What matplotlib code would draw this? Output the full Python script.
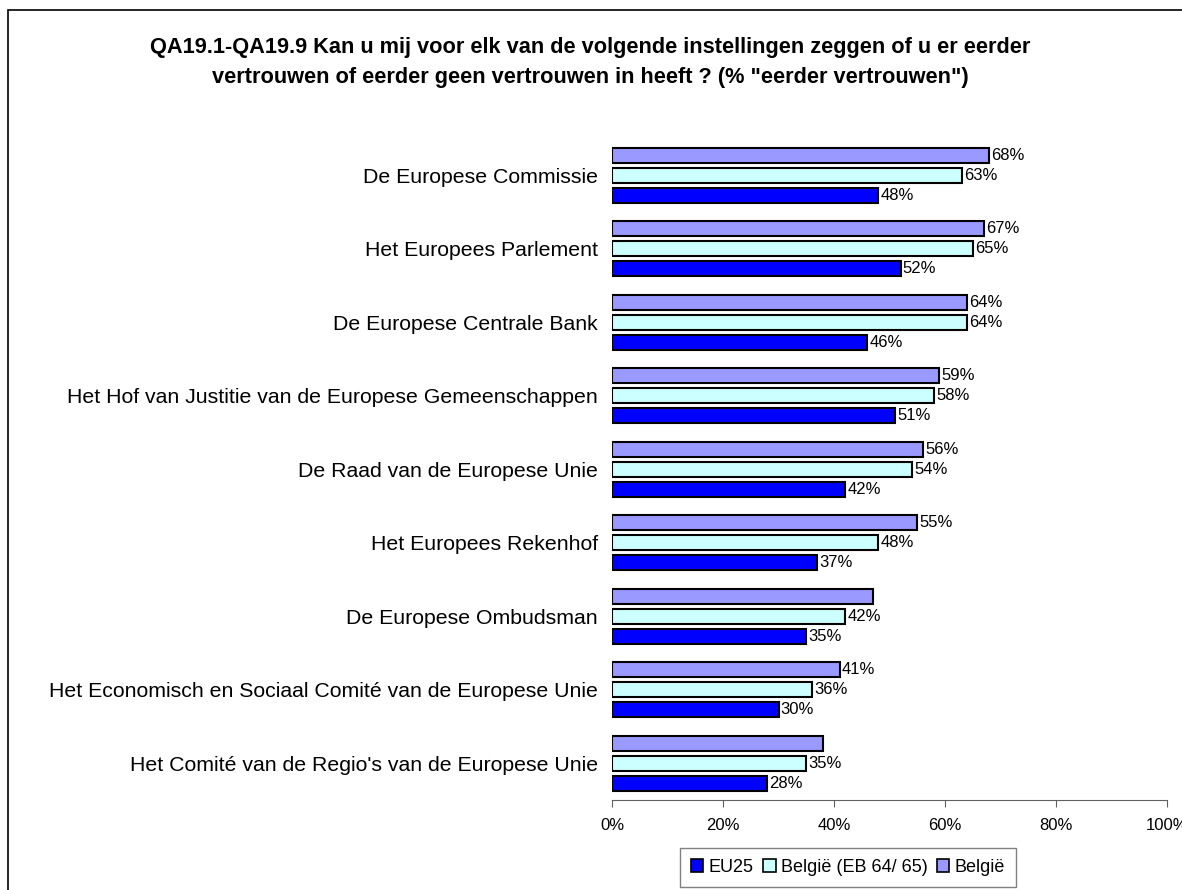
import matplotlib
matplotlib.use("Agg")
import matplotlib.pyplot as plt
from matplotlib.patches import Rectangle
import numpy as np

plt.rcParams['font.family'] = ['Liberation Sans', 'DejaVu Sans']

# data
categories = [
    "De Europese Commissie",
    "Het Europees Parlement",
    "De Europese Centrale Bank",
    "Het Hof van Justitie van de Europese Gemeenschappen",
    "De Raad van de Europese Unie",
    "Het Europees Rekenhof",
    "De Europese Ombudsman",
    "Het Economisch en Sociaal Comité van de Europese Unie",
    "Het Comité van de Regio's van de Europese Unie",
]
belgie = [68, 67, 64, 59, 56, 55, 47, 41, 38]
belgie_eb = [63, 65, 64, 58, 54, 48, 42, 36, 35]
eu25 = [48, 52, 46, 51, 42, 37, 35, 30, 28]
# some labels are not shown in the original
show_belgie = [True, True, True, True, True, True, False, True, False]

title = ('QA19.1-QA19.9 Kan u mij voor elk van de volgende instellingen zeggen of u er eerder\n'
         'vertrouwen of eerder geen vertrouwen in heeft ? (% "eerder vertrouwen")')

fig = plt.figure(figsize=(11.82, 8.90), dpi=100)
ax = fig.add_axes([612/1182, 1-800/890, 555/1182, (800-138.5)/890])

y = np.arange(len(categories)) + 0.5
pitch = 0.272
h = 0.205
fs = 12

series = [
    (eu25, y + pitch, '#0000FF', 'EU25', [True]*9),
    (belgie_eb, y, '#CCFFFF', 'België (EB 64/ 65)', [True]*9),
    (belgie, y - pitch, '#9999FF', 'België', show_belgie),
]
for vals, ypos, col, lab, show in series:
    ax.barh(ypos, vals, height=h, color=col, edgecolor='black', linewidth=1.5, label=lab)
    for v, yy, s in zip(vals, ypos, show):
        if s:
            ax.text(v + 0.4, yy, f"{v}%", va='center', ha='left', fontsize=fs)

ax.set_ylim(len(categories), 0)
ax.set_xlim(0, 100)
ax.set_yticks(y)
ax.set_yticklabels(categories, fontsize=15.3)
ax.tick_params(axis='y', length=0, pad=10)
ax.set_xticks(np.arange(0, 101, 20))
ax.set_xticklabels([f"{t}%" for t in range(0, 101, 20)], fontsize=fs)
ax.tick_params(axis='x', direction='out', length=5, color='#606060', pad=8)
for s in ['top', 'right', 'left']:
    ax.spines[s].set_visible(False)
ax.spines['bottom'].set_color('#606060')

handles, labels = ax.get_legend_handles_labels()
leg = fig.legend(handles, labels, loc='upper center', bbox_to_anchor=(848/1182, 1-848/890),
                 ncol=3, fontsize=13, frameon=True, fancybox=False, edgecolor='#606060',
                 handlelength=0.7, handleheight=0.7, handletextpad=0.3, columnspacing=0.5,
                 borderpad=0.6, borderaxespad=0)
leg.get_frame().set_linewidth(1.0)
for p in leg.get_patches():
    p.set_linewidth(1.2)

fig.text(590/1182, 1-62.5/890, title, ha='center', va='center', fontsize=15.7,
         fontweight='bold', linespacing=1.6)

fig.patches.append(Rectangle((8/1182, -0.05), 1.1, 1-10/890+0.05, transform=fig.transFigure,
                             fill=False, edgecolor='black', linewidth=1.2))

fig.savefig("out.png", dpi=100)
